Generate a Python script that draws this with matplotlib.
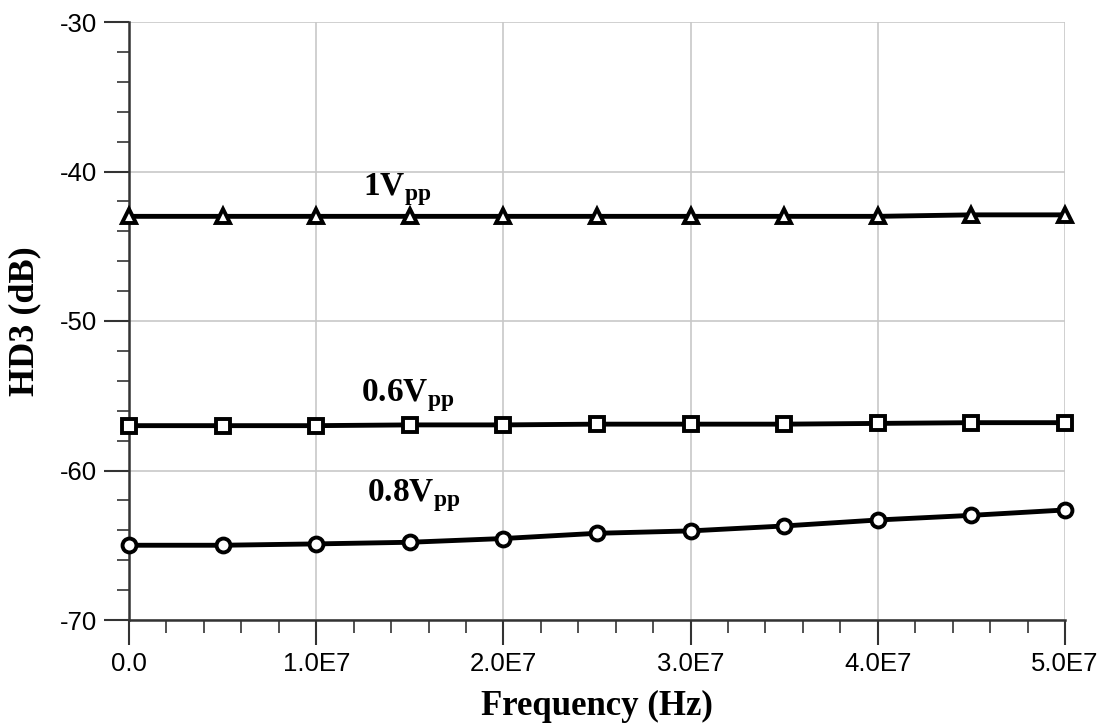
import matplotlib
matplotlib.use("Agg")
import matplotlib.pyplot as plt
from matplotlib.ticker import MultipleLocator, FuncFormatter

plt.rcParams['mathtext.fontset'] = 'custom'
plt.rcParams['mathtext.rm'] = 'Liberation Serif'
plt.rcParams['mathtext.bf'] = 'Liberation Serif:bold'

freq = [0.0, 0.5e7, 1.0e7, 1.5e7, 2.0e7, 2.5e7, 3.0e7, 3.5e7, 4.0e7, 4.5e7, 5.0e7]
hd3_1vpp = [-43.0, -43.0, -43.0, -43.0, -43.0, -43.0, -43.0, -43.0, -43.0, -42.9, -42.9]
hd3_06vpp = [-57.0, -57.0, -57.0, -56.95, -56.95, -56.9, -56.9, -56.9, -56.85, -56.8, -56.8]
hd3_08vpp = [-65.0, -65.0, -64.91, -64.8, -64.55, -64.2, -64.04, -63.71, -63.31, -63.0, -62.64]

series = [
    (hd3_1vpp, '^', r'$\mathbf{1V}_{\mathbf{pp}}$', (1.25e7, -41.2)),
    (hd3_06vpp, 's', r'$\mathbf{0.6V}_{\mathbf{pp}}$', (1.24e7, -55.0)),
    (hd3_08vpp, 'o', r'$\mathbf{0.8V}_{\mathbf{pp}}$', (1.27e7, -61.7)),
]

fig = plt.figure(figsize=(11.06, 7.27), dpi=100)
ax = fig.add_axes([129 / 1106, 1 - 620 / 727, (1065 - 129) / 1106, (620 - 22) / 727])

for vals, mk, label, pos in series:
    ax.plot(freq, vals, color='black', linewidth=3.5, marker=mk, markersize=10,
            markerfacecolor='white', markeredgecolor='black', markeredgewidth=2.8,
            clip_on=False, zorder=3)
    ax.text(pos[0], pos[1], label, fontsize=24, va='center', ha='left')

ax.set_xlim(0, 5.0e7)
ax.set_ylim(-70, -30)
ax.xaxis.set_major_locator(MultipleLocator(1.0e7))
ax.xaxis.set_minor_locator(MultipleLocator(2.0e6))
ax.yaxis.set_major_locator(MultipleLocator(10))
ax.yaxis.set_minor_locator(MultipleLocator(2))


def fmt_x(v, _):
    if v == 0:
        return '0.0'
    return f'{v / 1e7:.1f}E7'


ax.xaxis.set_major_formatter(FuncFormatter(fmt_x))
ax.yaxis.set_major_formatter(FuncFormatter(lambda v, _: f'{int(round(v))}'))

ax.grid(True, which='major', color='#c8c8c8', linewidth=1.2)
ax.set_axisbelow(True)
for s in ('top', 'right'):
    ax.spines[s].set_visible(False)
for s in ('left', 'bottom'):
    ax.spines[s].set_color('#333333')
    ax.spines[s].set_linewidth(1.8)

ax.tick_params(which='major', direction='out', length=18, width=1.5, color='#333333',
               labelsize=18.5, pad=5)
ax.tick_params(which='minor', direction='out', length=9, width=1.2, color='#333333')
for lbl in ax.get_xticklabels() + ax.get_yticklabels():
    lbl.set_fontfamily('Liberation Sans')

ax.set_xlabel('Frequency (Hz)', fontfamily='Liberation Serif', fontweight='bold',
              fontsize=25, va='center')
ax.set_ylabel('HD3 (dB)', fontfamily='Liberation Serif', fontweight='bold',
              fontsize=26, va='center')
ax.xaxis.set_label_coords(0.5, -0.145)
ax.yaxis.set_label_coords(-0.111, 0.5)

fig.savefig('out.png', dpi=100, facecolor='white')
